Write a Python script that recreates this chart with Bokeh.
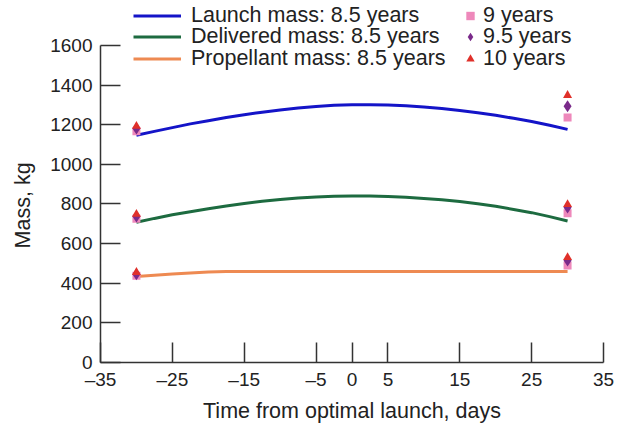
from bokeh.plotting import figure
from bokeh.models import Range1d, FixedTicker, Legend, LegendItem
from bokeh.embed import file_html
from bokeh.resources import INLINE

# ---- data ----
days = [-30, -27.5, -25, -22.5, -20, -17.5, -15, -12.5, -10, -7.5, -5, -2.5, 0,
        2.5, 5, 7.5, 10, 12.5, 15, 17.5, 20, 22.5, 25, 27.5, 30]
launch_85 = [1147, 1166, 1185, 1204, 1220, 1236, 1250, 1263, 1274, 1284, 1292, 1298, 1301,
             1301, 1299, 1295, 1289, 1281, 1271, 1260, 1247, 1232, 1216, 1197, 1176]
delivered_85 = [708, 727, 745, 761, 776, 790, 802, 813, 822, 830, 835, 839, 840,
                840, 838, 834, 828, 821, 812, 801, 788, 772, 756, 736, 714]
propellant_85 = [434, 440, 446, 452, 457, 459, 459, 459, 459, 459, 459, 459, 459,
                 459, 459, 459, 459, 459, 459, 459, 459, 459, 459, 459, 459]

pt_days = [-30, -30, -30, 30, 30, 30]
mass_9 = [1167, 725, 438, 1236, 753, 490]
mass_95 = [1181, 736, 445, 1293, 782, 515]
mass_10 = [1192, 748, 455, 1348, 798, 530]

x_ticks = [-35, -25, -15, -5, 0, 5, 15, 25, 35]
y_ticks = [0, 200, 400, 600, 800, 1000, 1200, 1400, 1600]
line_labels = ["Launch mass: 8.5 years", "Delivered mass: 8.5 years", "Propellant mass: 8.5 years"]
point_labels = ["9 years", "9.5 years", "10 years"]
y_title = "Mass, kg"
x_title = "Time from optimal launch, days"

FONT = "Liberation Sans"
TXT = "#222222"
AX = "#333333"

# frame: 363 px tall for 0..1826 so that 1600 sits 45 px below the top
p = figure(width=624, height=425, output_backend="svg", toolbar_location=None,
           x_range=Range1d(-35, 35), y_range=Range1d(0, 1826.4),
           min_border_left=100, min_border_right=21, min_border_top=0, min_border_bottom=62)
p.grid.visible = False
p.outline_line_color = None
p.background_fill_color = "white"

r_l = p.line(days, launch_85, line_color="#1414c8", line_width=3)
r_d = p.line(days, delivered_85, line_color="#1d6b40", line_width=3)
r_p = p.line(days, propellant_85, line_color="#ee8a52", line_width=3)

r_9 = p.scatter(pt_days, mass_9, marker="square", size=8, fill_color="#ee88bb", line_color=None)
r_95 = p.scatter(pt_days, mass_95, marker="diamond", size=12, fill_color="#7a2a8a", line_color=None)
r_10 = p.scatter(pt_days, mass_10, marker="triangle", size=9, fill_color="#e0302a", line_color=None)

for ax in (p.xaxis[0], p.yaxis[0]):
    ax.axis_line_color = AX
    ax.axis_line_width = 1.5
    ax.major_tick_line_color = AX
    ax.major_tick_line_width = 1.5
    ax.major_tick_in = 20
    ax.major_tick_out = 0
    ax.minor_tick_line_color = None
    ax.major_label_text_font = FONT
    ax.major_label_text_font_size = "19px"
    ax.major_label_text_color = TXT
    ax.axis_label_text_font = FONT
    ax.axis_label_text_font_size = "21.5px"
    ax.axis_label_text_font_style = "normal"
    ax.axis_label_text_color = TXT

p.xaxis.ticker = FixedTicker(ticks=x_ticks)
p.xaxis.major_label_overrides = {t: (("\u2013" + str(-t)) if t < 0 else str(t)) for t in x_ticks}
p.xaxis.axis_label = x_title
p.xaxis.major_label_standoff = 6
p.xaxis.axis_label_standoff = 6

p.yaxis.ticker = FixedTicker(ticks=y_ticks)
p.yaxis.bounds = (0, 1600)
# trailing no-break spaces centre the visible title on the 0..1600 axis span
p.yaxis.axis_label = y_title + "\u00a0" * 8
p.yaxis.major_label_standoff = 8
p.yaxis.axis_label_standoff = 12

def make_legend(label, rend, loc, gw, standoff):
    lg = Legend(items=[LegendItem(label=label, renderers=[rend])], location=loc)
    lg.background_fill_alpha = 0
    lg.border_line_alpha = 0
    lg.label_text_font = FONT
    lg.label_text_font_size = "21.5px"
    lg.label_text_color = TXT
    lg.padding = 0
    lg.margin = 0
    lg.spacing = 0
    lg.glyph_height = 21
    lg.label_height = 21
    lg.glyph_width = gw
    lg.label_standoff = standoff
    p.add_layout(lg, "center")

row_y = [334.5, 313, 291.5]
for lab, rend, yy in zip(line_labels, [r_l, r_d, r_p], row_y):
    make_legend(lab, rend, (33, yy), 48, 10)
for lab, rend, yy in zip(point_labels, [r_9, r_95, r_10], row_y):
    make_legend(lab, rend, (359, yy), 22, 2)

open("out.html", "w").write(file_html(p, INLINE))
